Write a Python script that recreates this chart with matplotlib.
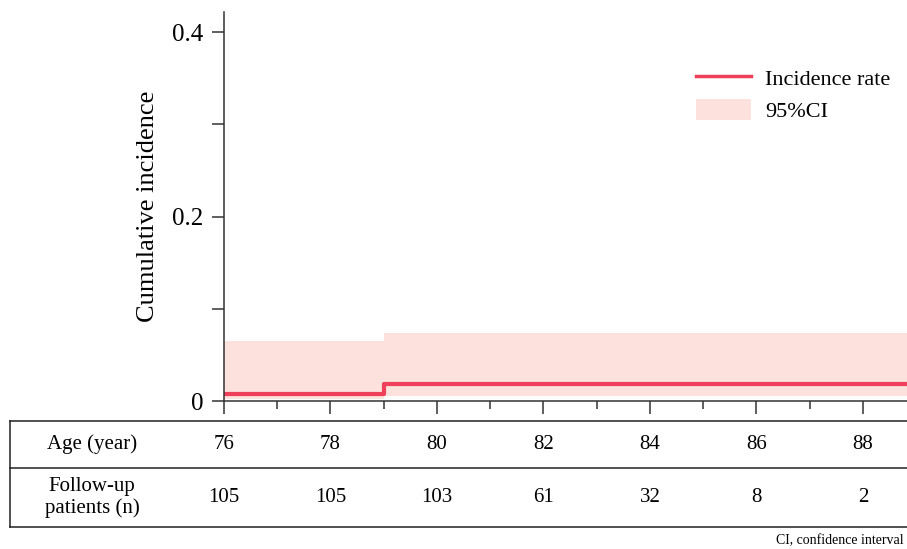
import matplotlib
matplotlib.use('Agg')
from matplotlib import pyplot as plt
from matplotlib.patches import Patch
from matplotlib.lines import Line2D
from matplotlib.transforms import blended_transform_factory
import numpy as np

plt.rcParams['font.family'] = ['Liberation Serif', 'DejaVu Serif']

# step curve: age where the value starts
step_age = [76, 79, 89]
incidence = [0.008, 0.0185, 0.0185]
ci_low = [0.002, 0.005, 0.005]
ci_high = [0.065, 0.074, 0.074]

table_ages = [76, 78, 80, 82, 84, 86, 88]
follow_up = [105, 105, 103, 61, 32, 8, 2]

red = '#EE3F5B'
band = '#FCE1DC'

fig = plt.figure(figsize=(9.07, 5.49), dpi=100)
ax = fig.add_axes([224 / 907, 1 - 401 / 549, 1 - 224 / 907, (401 - 12) / 549])

ax.fill_between(step_age, ci_low, ci_high, step='post', color=band, linewidth=0)
ax.step(step_age, incidence, where='post', color=red, linewidth=3)

ax.set_xlim(76, 88.83)
ax.set_ylim(0, 0.4217)

ax.set_xticks(range(76, 89, 2))
ax.set_xticks(range(77, 89, 2), minor=True)
ax.set_xticklabels([])
ax.set_yticks([0, 0.2, 0.4])
ax.set_yticklabels(['0', '0.2', '0.4'], fontsize=18)
ax.set_yticks([0.1, 0.3], minor=True)

ax.tick_params(axis='both', which='major', length=9, width=1.1, color='#333333')
ax.tick_params(axis='x', which='minor', length=6, width=1.1, color='#333333')
ax.tick_params(axis='y', which='minor', length=9, width=1.1, color='#333333')
ax.tick_params(axis='y', pad=6)

for s in ['top', 'right']:
    ax.spines[s].set_visible(False)
for s in ['left', 'bottom']:
    ax.spines[s].set_color('#333333')
    ax.spines[s].set_linewidth(1.1)

ax.set_ylabel('Cumulative incidence', fontsize=19, labelpad=9)

handles = [Line2D([0], [0], color=red, linewidth=2.5),
           Patch(facecolor=band, edgecolor='none')]
ax.legend(handles, ['Incidence rate', '95%CI'], loc='upper left',
          bbox_to_anchor=(687 / 907, 1 - 58 / 549), bbox_transform=fig.transFigure,
          frameon=False, fontsize=16, handlelength=2.5, handleheight=1.1,
          handletextpad=0.6, labelspacing=0.4, borderaxespad=0)

# number-at-risk table below the plot
y_top, y_mid, y_bot = 1 - 421 / 549, 1 - 468 / 549, 1 - 527 / 549
x_left = 10 / 907
for y in [y_top, y_mid, y_bot]:
    fig.add_artist(Line2D([x_left, 1], [y, y], color='#222222', linewidth=1.1,
                          transform=fig.transFigure))
fig.add_artist(Line2D([x_left, x_left], [y_top, y_bot], color='#222222', linewidth=1.1,
                      transform=fig.transFigure))

row1 = (y_top + y_mid) / 2
row2 = (y_mid + y_bot) / 2
fig.text(92 / 907, row1, 'Age (year)', ha='center', va='center', fontsize=15)
fig.text(92 / 907, row2, 'Follow-up\npatients (n)', ha='center', va='center',
         fontsize=15, linespacing=1.15)

trans = blended_transform_factory(ax.transData, fig.transFigure)
for age, n in zip(table_ages, follow_up):
    fig.text(age, row1, str(age), ha='center', va='center', fontsize=15, transform=trans)
    fig.text(age, row2, str(n), ha='center', va='center', fontsize=15, transform=trans)

fig.text(904 / 907, 1 - 541 / 549, 'CI, confidence interval', ha='right', va='center',
         fontsize=10)

fig.savefig('out.png', dpi=100)
